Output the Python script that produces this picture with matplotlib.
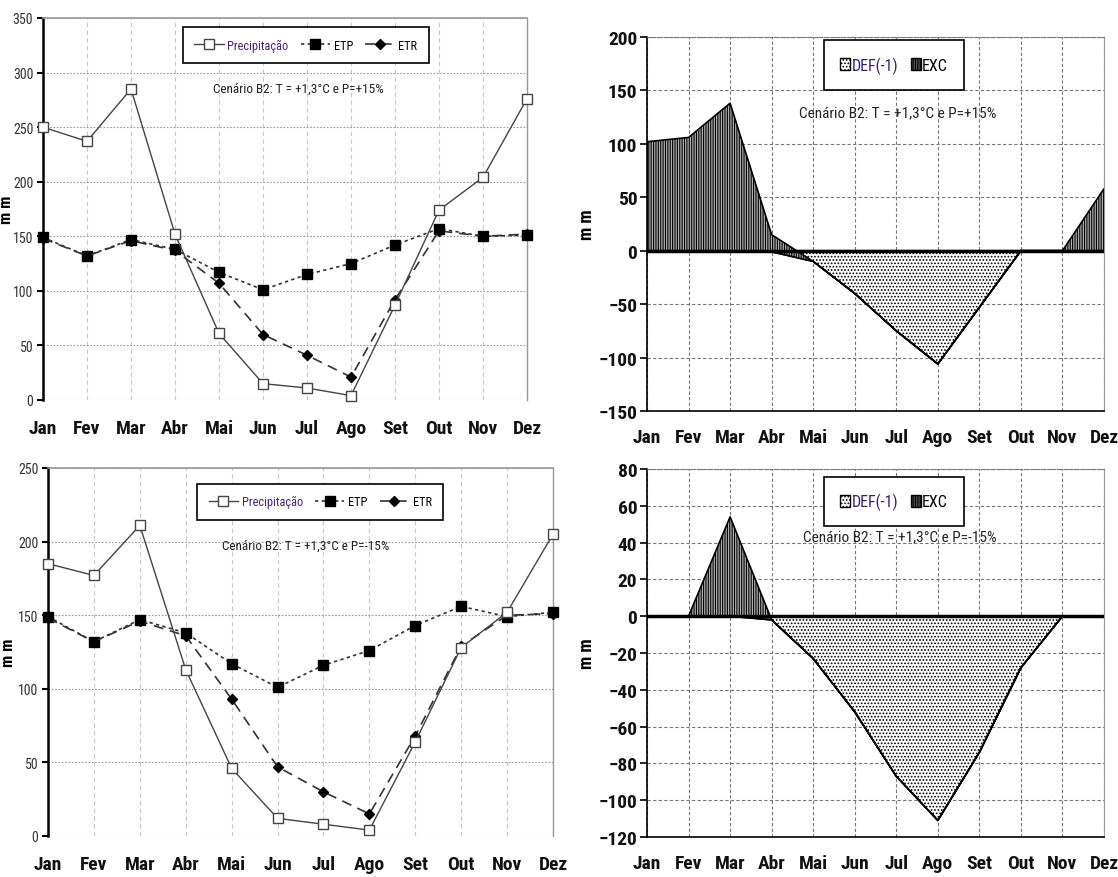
import matplotlib
matplotlib.use('Agg')
import matplotlib.pyplot as plt
from matplotlib import font_manager
from matplotlib.patches import Patch

months = ['Jan', 'Fev', 'Mar', 'Abr', 'Mai', 'Jun', 'Jul', 'Ago', 'Set', 'Out', 'Nov', 'Dez']

# Scenario B2: T=+1.3C, P=+15%
prec_p15 = [250, 237, 285, 152, 61, 15, 11, 4, 87, 174, 204, 276]
etp_p15 = [149, 132, 147, 138, 117, 101, 115, 125, 142, 157, 150, 151]
etr_p15 = [148, 132, 146, 137, 107, 60, 41, 21, 92, 155, 150, 152]
def_p15 = [0, 0, 0, -1, -10, -40, -75, -106, -53, 0, 0, 0]
exc_p15 = [102, 106, 138, 16, 0, 0, 0, 0, 0, 0, 0, 58]

# Scenario B2: T=+1.3C, P=-15%
prec_m15 = [185, 177, 211, 113, 46, 12, 8, 4, 64, 128, 152, 205]
etp_m15 = [149, 132, 147, 138, 117, 101, 116, 126, 143, 156, 149, 152]
etr_m15 = [148, 132, 146, 136, 93, 47, 30, 15, 68, 129, 150, 151]
def_m15 = [0, 0, 0, -2, -23, -52, -87, -111, -74, -28, 0, 0]
exc_m15 = [0, 0, 54, 0, 0, 0, 0, 0, 0, 0, 0, 0]

title_p15 = 'Cenário B2: T = +1,3°C e P=+15%'
title_m15 = 'Cenário B2: T = +1,3°C e P=-15%'

# ---- pick a condensed font if one is installed ----
ttf = font_manager.fontManager.ttflist
names = {f.name for f in ttf}
COND_STRETCH = ('condensed', 'semi-condensed', 'extra-condensed', 'ultra-condensed')
NARROW, STRETCH, K = None, 'normal', 1.0
for p in ['Liberation Sans Narrow', 'Arial Narrow', 'Roboto Condensed',
          'Noto Sans Condensed', 'Open Sans Condensed', 'DejaVu Sans Condensed']:
    if p in names:
        NARROW = p
        break
if NARROW is None:
    cn = sorted(n for n in names if ('Narrow' in n or 'Condensed' in n) and 'Mono' not in n
                and 'Serif' not in n and 'CJK' not in n)
    if cn:
        NARROW = cn[0]
if NARROW is None:
    for fam in ['Liberation Sans', 'Roboto', 'Noto Sans', 'Open Sans', 'DejaVu Sans']:
        if any(f.name == fam and str(f.stretch) in COND_STRETCH for f in ttf):
            NARROW, STRETCH = fam, 'condensed'
            break
if NARROW is None:
    NARROW, K = 'Liberation Sans', 0.82
FAM = [NARROW, 'DejaVu Sans']


def fp(size, weight='normal'):
    return dict(family=FAM, size=size * K, weight=weight, stretch=STRETCH)


fig = plt.figure(figsize=(11.18, 8.78), dpi=100)


def frac(l, r, t, b):
    W, H = 1118, 878
    return [l / W, 1 - b / H, (r - l) / W, (b - t) / H]


x = list(range(len(months)))


def style_ticklabels(labels, size, weight, color):
    for lab in labels:
        lab.set_family(FAM)
        lab.set_fontsize(size * K)
        lab.set_fontweight(weight)
        lab.set_fontstretch(STRETCH)
        lab.set_color(color)


def water_axes(ax, prec, etp, etr, title, ymax, ystep, leg_xy, ann_xy, ylab_x):
    ax.set_xlim(0, 11)
    ax.set_ylim(0, ymax)
    ax.set_yticks(range(0, ymax + 1, ystep))
    ax.set_xticks(x)
    ax.set_xticklabels(months)
    style_ticklabels(ax.get_xticklabels(), 14, 'bold', '#111111')
    style_ticklabels(ax.get_yticklabels(), 10, 'normal', '#333333')
    ax.tick_params(axis='x', length=0, pad=14)
    ax.tick_params(axis='y', length=4, width=1.5, direction='out', pad=3)
    ax.xaxis.grid(True, color='#c8c8c8', ls=(0, (4, 3)), lw=0.8)
    ax.yaxis.grid(True, color='#9a9a9a', ls=(0, (1.5, 1.5)), lw=0.8)
    ax.set_axisbelow(True)
    ax.spines['left'].set_color('black')
    ax.spines['left'].set_linewidth(1.8)
    ax.spines['top'].set_color('#999999')
    ax.spines['top'].set_linewidth(1.2)
    ax.spines['right'].set_color('#999999')
    ax.spines['right'].set_linewidth(1.0)
    ax.spines['bottom'].set_visible(False)
    ax.plot(x, prec, color='#444444', lw=1.0, ls='-', marker='s', ms=7,
            mfc='white', mec='#444444', mew=1.0, label='Precipitação', clip_on=False, zorder=4)
    ax.plot(x, etp, color='#333333', lw=1.2, ls=(0, (2, 2)), marker='s', ms=7,
            mfc='black', mec='black', label='ETP', clip_on=False, zorder=3)
    ax.plot(x, etr, color='#333333', lw=1.2, ls=(0, (6, 4)), marker='D', ms=5,
            mfc='black', mec='black', label='ETR', clip_on=False, zorder=3)
    ax.set_ylabel('m m', fontdict=fp(12, 'bold'))
    ax.yaxis.set_label_coords(ylab_x, 0.5)
    leg = ax.legend(loc='center', bbox_to_anchor=leg_xy, ncol=3, frameon=True,
                    fancybox=False, edgecolor='black', framealpha=1,
                    prop=fp(8.8), handlelength=2.4,
                    columnspacing=1.0, handletextpad=0.3, borderpad=0.95)
    leg.get_frame().set_linewidth(1.2)
    leg.get_texts()[0].set_color('#4a2270')
    ax.text(ann_xy[0], ann_xy[1], title, transform=ax.transAxes, ha='center', va='center',
            color='#222222', **fp(9.5))


def balance_axes(ax, dff, exc, title, ymin, ymax, ystep, leg_xy, ann_xy):
    ax.set_xlim(0, 11)
    ax.set_ylim(ymin, ymax)
    ax.set_yticks(range(ymin, ymax + 1, ystep))
    ax.set_xticks(x)
    ax.set_xticklabels(months)
    style_ticklabels(ax.get_xticklabels(), 14, 'bold', '#111111')
    style_ticklabels(ax.get_yticklabels(), 14, 'bold', '#111111')
    ax.tick_params(axis='x', length=0, pad=12)
    ax.tick_params(axis='y', length=5, width=1.2, direction='out', pad=2)
    ax.grid(True, color='#777777', ls=(0, (3, 2)), lw=0.8)
    ax.set_axisbelow(True)
    for s in ('left', 'bottom'):
        ax.spines[s].set_color('black')
        ax.spines[s].set_linewidth(1.2)
    ax.spines['top'].set_color('#777777')
    ax.spines['top'].set_linestyle((0, (1.5, 1.5)))
    ax.spines['right'].set_color('#999999')
    top = [d + e for d, e in zip(dff, exc)]
    ax.fill_between(x, 0, dff, facecolor='white', edgecolor='black', hatch='.....',
                    lw=1.2, zorder=2)
    ax.fill_between(x, dff, top, facecolor='#b0b0b0', edgecolor='black', hatch='|||||||',
                    lw=1.2, zorder=2)
    ax.axhline(0, color='black', lw=2.5, zorder=3)
    ax.set_ylabel('m m', fontdict=fp(13, 'bold'))
    ax.yaxis.set_label_coords(-0.112, 0.5)
    handles = [Patch(facecolor='white', edgecolor='black', hatch='.....', label='DEF(-1)'),
               Patch(facecolor='#555555', edgecolor='black', hatch='|||||||', label='EXC')]
    leg = ax.legend(handles=handles, loc='center', bbox_to_anchor=leg_xy, ncol=2, frameon=True,
                    fancybox=False, edgecolor='black', framealpha=1,
                    prop=fp(11.5), handlelength=0.6, handleheight=0.8,
                    columnspacing=0.8, handletextpad=0.1, borderpad=1.0)
    leg.get_frame().set_linewidth(1.2)
    leg.get_texts()[0].set_color('#3a1f66')
    ax.text(ann_xy[0], ann_xy[1], title, transform=ax.transAxes, ha='center', va='center',
            color='#222222', **fp(11))


plt.rcParams['hatch.linewidth'] = 0.8

ax1 = fig.add_axes(frac(43, 527, 19, 401))
water_axes(ax1, prec_p15, etp_p15, etr_p15, title_p15, 350, 50,
           (0.543, 0.929), (0.527, 0.817), -0.06)

ax2 = fig.add_axes(frac(647, 1104, 38, 412))
balance_axes(ax2, def_p15, exc_p15, title_p15, -150, 200, 50, (0.541, 0.925), (0.549, 0.80))

ax3 = fig.add_axes(frac(48, 553, 469, 837))
water_axes(ax3, prec_m15, etp_m15, etr_m15, title_m15, 250, 50,
           (0.539, 0.908), (0.511, 0.79), -0.063)

ax4 = fig.add_axes(frac(647, 1104, 470, 838))
balance_axes(ax4, def_m15, exc_m15, title_m15, -120, 80, 20, (0.541, 0.912), (0.553, 0.818))

fig.savefig('out.png', dpi=100)
